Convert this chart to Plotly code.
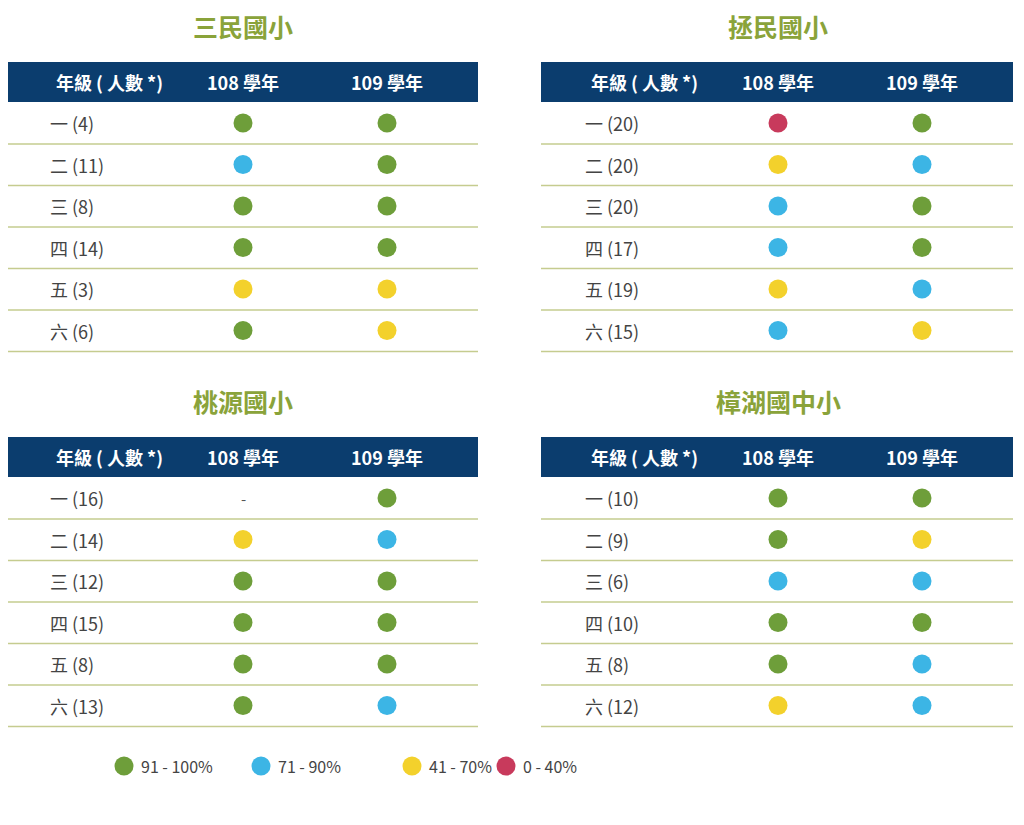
import plotly.graph_objects as go

schools = ["三民國小", "拯民國小", "桃源國小", "樟湖國中小"]
grades = ["一", "二", "三", "四", "五", "六"]
counts = {
    "三民國小": [4, 11, 8, 14, 3, 6],
    "拯民國小": [20, 20, 20, 17, 19, 15],
    "桃源國小": [16, 14, 12, 15, 8, 13],
    "樟湖國中小": [10, 9, 6, 10, 8, 12],
}
# G=91-100, B=71-90, Y=41-70, R=0-40, None = no data
y108 = {
    "三民國小": ["G", "B", "G", "G", "Y", "G"],
    "拯民國小": ["R", "Y", "B", "B", "Y", "B"],
    "桃源國小": [None, "Y", "G", "G", "G", "G"],
    "樟湖國中小": ["G", "G", "B", "G", "G", "Y"],
}
y109 = {
    "三民國小": ["G", "G", "G", "G", "Y", "Y"],
    "拯民國小": ["G", "B", "G", "G", "B", "Y"],
    "桃源國小": ["G", "B", "G", "G", "G", "B"],
    "樟湖國中小": ["G", "Y", "B", "G", "B", "B"],
}
legend_codes = ["G", "B", "Y", "R"]
legend_labels = ["91 - 100%", "71 - 90%", "41 - 70%", "0 - 40%"]
colors = {"G": "#6e9e3a", "B": "#3cb5e5", "Y": "#f3d12c", "R": "#c83a5c"}

FONT = "Noto Sans CJK TC"
fig = go.Figure()
shapes, ann = [], []
origins = [(6, 0), (541, 0), (6, 375), (541, 375)]
W = 472
for s, (x0, dy) in zip(schools, origins):
    ann.append(dict(x=x0 + 237, y=dy + 26, text=f"<b>{s}</b>", showarrow=False,
                    font=dict(size=25, color="#8aa33a", family=FONT)))
    shapes.append(dict(type="rect", x0=x0, x1=x0 + W, y0=dy + 62, y1=dy + 102,
                       fillcolor="#0b3d6e", line_width=0, layer="below"))
    for t, xc in [("年級 ( 人數 *)", x0 + 103), ("108 學年", x0 + 237), ("109 學年", x0 + 381)]:
        ann.append(dict(x=xc, y=dy + 82, text=f"<b>{t}</b>", showarrow=False,
                        font=dict(size=18, color="white", family=FONT)))
    xs, ys, cs = [], [], []
    for i, g in enumerate(grades):
        yc = dy + 123 + i * 41.5
        ann.append(dict(x=x0 + 42, y=yc, xanchor="left", text=f"{g} ({counts[s][i]})",
                        showarrow=False, font=dict(size=18, color="#444", family=FONT)))
        shapes.append(dict(type="line", x0=x0, x1=x0 + W, y0=yc + 21, y1=yc + 21,
                           line=dict(color="#c5cc8f", width=1.5)))
        for code, xc in [(y108[s][i], x0 + 237), (y109[s][i], x0 + 381)]:
            if code is None:
                ann.append(dict(x=xc, y=yc, text="-", showarrow=False,
                                font=dict(size=15, color="#555", family=FONT)))
            else:
                xs.append(xc); ys.append(yc); cs.append(colors[code])
    fig.add_trace(go.Scatter(x=xs, y=ys, mode="markers",
                             marker=dict(size=19, color=cs), hoverinfo="skip"))

ann.append(dict(x=6, y=766, xanchor="left", text="檢測表現", showarrow=False,
                font=dict(size=16, color="#444", family=FONT)))
lx = [124, 261, 412, 506]
fig.add_trace(go.Scatter(x=lx, y=[766] * 4, mode="markers",
                         marker=dict(size=19, color=[colors[c] for c in legend_codes]),
                         hoverinfo="skip"))
for x, t in zip(lx, legend_labels):
    ann.append(dict(x=x + 15, y=766, xanchor="left", text=t, showarrow=False,
                    font=dict(size=16, color="#444", family=FONT)))
ann.append(dict(x=6, y=801, xanchor="left", text="* 為 109 學年度學生人數", showarrow=False,
                font=dict(size=16, color="#444", family=FONT)))

fig.update_layout(width=1024, height=825, margin=dict(l=0, r=0, t=0, b=0),
                  plot_bgcolor="white", paper_bgcolor="white", showlegend=False,
                  shapes=shapes, annotations=ann,
                  xaxis=dict(range=[8, 1032], visible=False, fixedrange=True),
                  yaxis=dict(range=[833, 8], visible=False, fixedrange=True))
fig.write_html("out.html", config={"displayModeBar": False})
